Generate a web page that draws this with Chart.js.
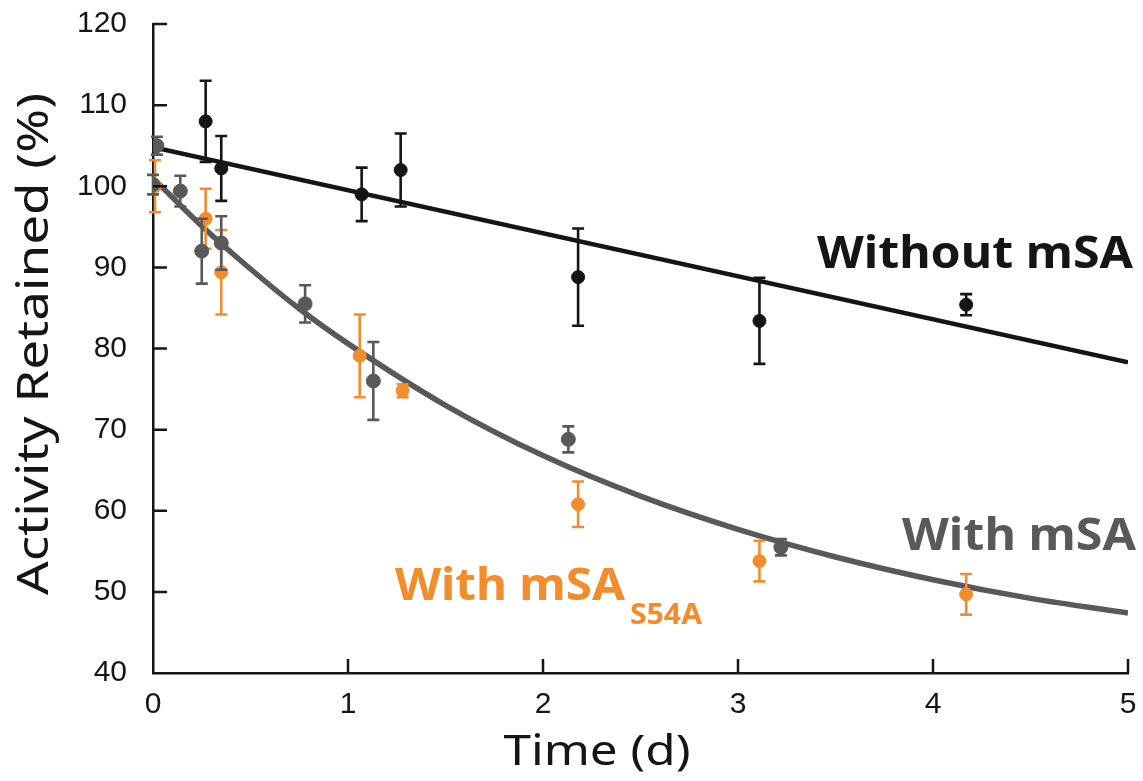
<!DOCTYPE html>
<html>
<head>
<meta charset="utf-8">
<script src="https://cdn.jsdelivr.net/npm/chart.js@4.4.1/dist/chart.umd.min.js"></script>
<style>
  html, body { margin: 0; padding: 0; background: #fff; }
  #wrap { width: 1143px; height: 781px; }
</style>
</head>
<body>
<div id="wrap"><canvas id="chart" width="1143" height="781"></canvas></div>
<script>
// Activity retained (%) over time (d), mean and SD
const timeWithout = [0.27, 0.35, 1.07, 1.27, 2.18, 3.11, 4.17];
const activityWithout = [108, 102.2, 99, 102, 88.8, 83.4, 85.4];
const sdWithout = [5, 4, 3.3, 4.5, 6, 5.3, 1.3];

const timeWith = [0, 0.02, 0.14, 0.25, 0.35, 0.78, 1.13, 2.13, 3.22];
const activityWith = [100.2, 105, 99.4, 92, 93, 85.5, 76, 68.8, 55.5];
const sdWith = [1.2, 1.1, 1.9, 4, 3.3, 2.3, 4.8, 1.6, 1];

const timeS54A = [0.01, 0.27, 0.35, 1.06, 1.28, 2.18, 3.11, 4.17];
const activityS54A = [100, 96, 89.4, 79.1, 74.8, 60.8, 53.8, 49.7];
const sdS54A = [3.2, 3.7, 5.2, 5.1, 0.8, 2.8, 2.5, 2.5];

// fitted curves
const fitTimeWithout = [0, 5];
const fitWithout = [104.8, 78.3];
const fitTimeWith = [0, 0.25, 0.5, 0.75, 1, 1.5, 2, 2.5, 3, 3.5, 4, 4.5, 5];
const fitWith = [101, 95.1, 89.8, 84.9, 80.6, 73.0, 66.8, 61.8, 57.7, 54.3, 51.5, 49.2, 47.4];

const xTicks = [0, 1, 2, 3, 4, 5];
const yTicks = [40, 50, 60, 70, 80, 90, 100, 110, 120];

const BLACK = '#151515';
const GRAY = '#58595b';
const ORANGE = '#f28c2c';

const toPoints = (xs, ys) => xs.map((x, i) => ({ x, y: ys[i] }));

// text squeezed/stretched to a given advance width
function fitText(ctx, text, x, y, font, width, align, angle) {
  ctx.save();
  ctx.font = font;
  const w = ctx.measureText(text).width;
  ctx.translate(x, y);
  if (angle) ctx.rotate(angle);
  ctx.scale(width / w, 1);
  ctx.textAlign = align;
  ctx.textBaseline = 'alphabetic';
  ctx.fillText(text, 0, 0);
  ctx.restore();
}

const errorBars = {
  id: 'errorBars',
  beforeDatasetDraw(chart, args) {
    const ds = chart.data.datasets[args.index];
    if (!ds.sd) return;
    const { ctx, scales: { x, y } } = chart;
    ctx.save();
    ctx.strokeStyle = ds.backgroundColor;
    ctx.lineWidth = 2.6;
    ds.data.forEach((p, i) => {
      const px = x.getPixelForValue(p.x);
      const top = y.getPixelForValue(p.y + ds.sd[i]);
      const bot = y.getPixelForValue(p.y - ds.sd[i]);
      ctx.beginPath();
      ctx.moveTo(px, top); ctx.lineTo(px, bot);
      ctx.moveTo(px - 6, top); ctx.lineTo(px + 6, top);
      ctx.moveTo(px - 6, bot); ctx.lineTo(px + 6, bot);
      ctx.stroke();
    });
    ctx.restore();
  }
};

// inward tick marks, axis titles and series labels
const decorations = {
  id: 'decorations',
  afterDraw(chart) {
    const { ctx, chartArea: a, scales: { x, y } } = chart;
    ctx.save();
    ctx.strokeStyle = BLACK;
    ctx.lineWidth = 2.5;
    ctx.beginPath();
    xTicks.forEach(v => {
      if (v === 0) return;
      const px = x.getPixelForValue(v);
      ctx.moveTo(px, a.bottom); ctx.lineTo(px, a.bottom - 14);
    });
    yTicks.forEach(v => {
      if (v === 40) return;
      const py = y.getPixelForValue(v);
      ctx.moveTo(a.left, py); ctx.lineTo(a.left + 14, py);
    });
    ctx.stroke();

    ctx.fillStyle = BLACK;
    fitText(ctx, 'Time (d)', 597, 765, '42px "Noto Sans"', 187, 'center');
    fitText(ctx, 'Activity Retained (%)', 48, 344, '44px "Noto Sans"', 502, 'center', -Math.PI / 2);

    const bold = 'bold 44px "Noto Sans"';
    ctx.fillStyle = BLACK;
    fitText(ctx, 'Without mSA', 817, 268, bold, 316, 'left');
    ctx.fillStyle = GRAY;
    fitText(ctx, 'With mSA', 902, 550, bold, 234, 'left');
    ctx.fillStyle = ORANGE;
    fitText(ctx, 'With mSA', 395, 600, bold, 230, 'left');
    fitText(ctx, 'S54A', 630, 624, 'bold 29px "Noto Sans"', 72, 'left');
    ctx.restore();
  }
};

new Chart(document.getElementById('chart'), {
  type: 'scatter',
  data: {
    datasets: [
      {
        label: 'Without mSA',
        data: toPoints(timeWithout, activityWithout),
        sd: sdWithout,
        backgroundColor: BLACK,
        borderColor: BLACK,
        pointRadius: 6.5,
        order: 0
      },
      {
        label: 'With mSA',
        data: toPoints(timeWith, activityWith),
        sd: sdWith,
        backgroundColor: GRAY,
        borderColor: GRAY,
        pointRadius: 7,
        order: 1
      },
      {
        label: 'With mSA S54A',
        data: toPoints(timeS54A, activityS54A),
        sd: sdS54A,
        backgroundColor: ORANGE,
        borderColor: ORANGE,
        pointRadius: 6.5,
        order: 2
      },
      {
        type: 'line',
        label: 'Fit without mSA',
        data: toPoints(fitTimeWithout, fitWithout),
        borderColor: BLACK,
        borderWidth: 4.5,
        pointRadius: 0,
        fill: false,
        order: 3
      },
      {
        type: 'line',
        label: 'Fit with mSA',
        data: toPoints(fitTimeWith, fitWith),
        borderColor: GRAY,
        borderWidth: 5.5,
        pointRadius: 0,
        cubicInterpolationMode: 'monotone',
        fill: false,
        order: 4
      }
    ]
  },
  options: {
    responsive: false,
    animation: false,
    layout: { padding: { top: 24, right: 15, left: 0, bottom: 0 } },
    plugins: {
      legend: { display: false },
      tooltip: { enabled: false }
    },
    scales: {
      x: {
        type: 'linear',
        min: 0,
        max: 5,
        afterFit: s => { s.height = 108; s.paddingLeft = 0; s.paddingRight = 0; },
        afterBuildTicks: s => { s.ticks = xTicks.map(v => ({ value: v })); },
        grid: { display: false, drawTicks: false },
        border: { display: true, color: BLACK, width: 2.5 },
        ticks: {
          padding: 14,
          color: BLACK,
          font: { family: 'Liberation Sans', size: 30 }
        }
      },
      y: {
        min: 40,
        max: 120,
        afterFit: s => { s.width = 153; s.paddingTop = 0; s.paddingBottom = 0; },
        afterBuildTicks: s => { s.ticks = yTicks.map(v => ({ value: v })); },
        grid: { display: false, drawTicks: false },
        border: { display: true, color: BLACK, width: 2.5 },
        ticks: {
          padding: 26,
          color: BLACK,
          font: { family: 'Liberation Sans', size: 30 }
        }
      }
    }
  },
  plugins: [errorBars, decorations]
});
</script>
</body>
</html>
